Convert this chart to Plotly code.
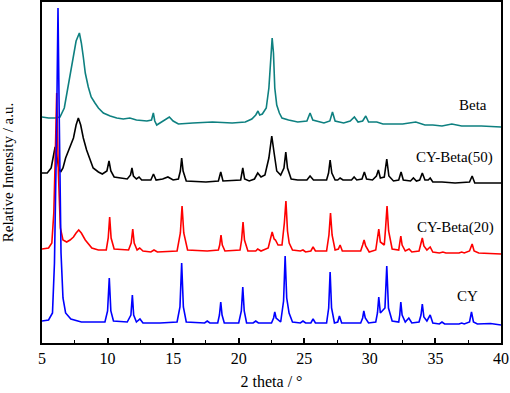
import plotly.graph_objects as go

# ---- data (2theta in degrees, intensity in plot units incl. stacking offset)
cy_2theta = [5.0, 5.5, 5.8, 5.95, 6.1, 6.22, 6.32, 6.45, 6.6, 6.8, 7.2, 8.0, 9.0, 9.8, 10.0, 10.13, 10.25, 10.45,
             11.5, 11.78, 11.89, 11.99, 12.2, 12.47, 12.7, 14.0, 15.3, 15.52, 15.65, 15.78, 16.0, 17.4, 17.6, 17.8,
             18.4, 18.53, 18.63, 18.73, 18.9, 20.0, 20.2, 20.31, 20.42, 20.6, 21.1, 21.3, 21.5, 22.5, 22.66, 22.75,
             22.85, 23.2, 23.42, 23.54, 23.66, 23.84, 24.1, 24.7, 24.9, 25.1, 25.5, 25.67, 25.85, 26.7, 26.86, 26.97,
             27.08, 27.3, 27.55, 27.68, 27.85, 29.3, 29.45, 29.54, 29.65, 29.9, 30.45, 30.58, 30.68, 30.8, 31.15,
             31.29, 31.42, 31.7, 32.2, 32.28, 32.36, 32.46, 32.7, 32.97, 33.2, 33.75, 33.9, 34.0, 34.12, 34.35, 34.6,
             34.8, 35.3, 35.5, 35.7, 36.8, 37.0, 37.2, 37.6, 37.75, 37.9, 38.2, 39.2, 40.0]
cy_intensity = [22, 23, 30, 80, 200, 335, 220, 90, 45, 30, 24, 21, 21, 21, 32, 65, 32, 22,
                21, 28, 48, 28, 21, 24, 20, 20, 21, 36, 80, 36, 21, 20, 22, 20,
                20, 28, 41, 28, 20, 20, 32, 56, 32, 20, 20, 22, 20, 20, 25, 31,
                25, 21, 42, 87, 45, 30, 21, 20, 22, 20, 20, 24, 20, 20, 35, 71,
                35, 20, 21, 27, 20, 20, 25, 32, 25, 20, 21, 30, 46, 30, 35,
                77, 35, 22, 21, 28, 41, 28, 21, 25, 20, 21, 28, 39, 26, 22, 28,
                20, 19, 21, 19, 19, 20, 19, 21, 31, 21, 19, 19.5, 18]

cyb20_2theta = [5.0, 5.5, 5.75, 5.9, 6.0, 6.12, 6.25, 6.4, 6.6, 6.88, 7.14, 7.4, 7.6, 7.8, 8.0, 8.3, 8.8, 9.3, 9.9,
                10.05, 10.16, 10.27, 10.5, 11.6, 11.8, 11.92, 12.03, 12.25, 12.45, 12.7, 13.3, 13.54, 13.8, 15.3,
                15.55, 15.68, 15.81, 16.1, 17.6, 18.45, 18.55, 18.65, 18.75, 18.95, 20.1, 20.22, 20.33, 20.44, 20.7,
                21.3, 21.45, 21.7, 22.25, 22.42, 22.55, 22.7, 22.8, 23.0, 23.3, 23.48, 23.6, 23.72, 23.85, 24.1, 24.7,
                24.9, 25.1, 25.5, 25.67, 25.85, 26.7, 26.88, 27.0, 27.12, 27.35, 27.6, 27.73, 27.9, 29.3, 29.45,
                29.56, 29.68, 29.95, 30.45, 30.58, 30.68, 30.8, 31.1, 31.2, 31.31, 31.43, 31.7, 32.2, 32.27, 32.36,
                32.46, 32.7, 32.99, 33.2, 33.75, 33.9, 34.0, 34.12, 34.35, 34.6, 34.8, 35.3, 35.57, 35.8, 36.8,
                37.0, 37.2, 37.6, 37.8, 37.95, 38.3, 40.0]
cyb20_intensity = [94, 95, 100, 130, 180, 250, 170, 115, 103, 101, 103, 106, 110, 113, 110, 103, 95, 93, 93,
                   105, 126, 105, 94, 93, 100, 114, 100, 93, 95, 92, 91, 93, 91, 92,
                   110, 137, 110, 93, 92, 93, 98, 108, 98, 92, 93, 103, 121, 103, 92,
                   92, 94, 92, 95, 103, 111, 104, 103, 98, 98, 120, 142, 112, 100, 93, 92,
                   93, 91, 92, 96, 92, 92, 108, 130, 108, 93, 94, 98, 92, 92, 98,
                   103, 97, 91, 93, 103, 114, 101, 98, 115, 137, 112, 94, 93, 99, 107,
                   98, 92, 94, 91, 92, 99, 105, 97, 93, 96, 91, 90, 91, 90, 90,
                   91, 90, 92, 99, 92, 90, 89]

cyb50_2theta = [5.0, 5.4, 5.7, 5.85, 6.0, 6.15, 6.3, 6.42, 6.6, 6.8, 7.14, 7.4, 7.6, 7.77, 7.95, 8.15, 8.4, 8.65,
                8.9, 9.3, 9.6, 9.95, 10.11, 10.25, 10.5, 11.5, 11.75, 11.86, 11.97, 12.2, 12.4, 12.6, 13.3, 13.5,
                13.7, 14.2, 14.6, 15.0, 15.4, 15.55, 15.65, 15.76, 16.0, 17.5, 18.45, 18.63, 18.8, 20.15, 20.31,
                20.45, 20.8, 21.2, 21.45, 21.7, 22.0, 22.3, 22.52, 22.7, 22.9, 23.2, 23.45, 23.59, 23.72, 24.0,
                24.5, 25.2, 25.44, 25.7, 26.7, 26.85, 26.97, 27.1, 27.35, 27.55, 27.73, 27.95, 28.6, 28.8, 29.0,
                29.4, 29.58, 29.75, 30.2, 30.5, 30.65, 30.8, 31.1, 31.29, 31.45, 31.8, 32.2, 32.38, 32.55, 33.1,
                33.32, 33.55, 33.8, 34.0, 34.2, 34.45, 34.6, 34.8, 35.5, 36.5, 37.6, 37.8, 38.0, 40.0]
cyb50_intensity = [170, 170, 175, 185, 196, 185, 174, 171, 175, 185, 196, 205, 218, 225, 218, 205, 193, 183,
                   175, 171, 169, 172, 182, 172, 166, 164, 168, 175, 167, 164, 166, 163, 163, 169,
                   163, 164, 166, 163, 164, 172, 185, 172, 162, 161, 162, 171, 162, 163, 175,
                   164, 162, 164, 170, 166, 168, 185, 207, 190, 172, 168, 175, 191, 175, 164,
                   163, 163, 167, 163, 163, 170, 183, 170, 163, 163, 165, 163, 163, 166, 163,
                   164, 171, 164, 163, 167, 173, 165, 166, 184, 167, 162, 163, 171, 163, 162,
                   165, 162, 163, 170, 163, 163, 165, 161, 161, 160, 161, 167, 160, 160]

beta_2theta = [5.0, 5.5, 6.0, 6.37, 6.7, 7.0, 7.2, 7.39, 7.6, 7.85, 8.0, 8.15, 8.3, 8.53, 8.75, 9.04, 9.3, 9.68,
               10.2, 10.7, 11.2, 11.7, 12.2, 13.0, 13.35, 13.49, 13.6, 13.75, 14.1, 14.4, 14.71, 15.0, 15.4, 16.5,
               18.0, 19.5, 20.5, 21.0, 21.3, 21.47, 21.6, 21.8, 22.1, 22.3, 22.45, 22.55, 22.65, 22.75, 22.9, 23.1,
               23.3, 23.8, 24.5, 25.2, 25.44, 25.65, 26.5, 26.95, 27.15, 27.35, 28.0, 28.5, 28.82, 29.1, 29.45,
               29.69, 29.9, 30.53, 31.0, 32.5, 33.5, 34.2, 34.8, 35.5, 36.25, 37.0, 38.5, 40.0]
beta_intensity = [226, 225, 225, 226, 235, 256, 272, 286, 302, 310, 300, 286, 270, 256, 246, 240, 235, 230,
                  227, 225, 224, 225, 223, 222, 223, 230, 222, 218, 221, 224, 226, 222, 219, 220,
                  221, 220, 221, 224, 228, 232, 228, 229, 235, 255, 290, 305, 290, 255, 238, 230,
                  225, 223, 221, 222, 230, 223, 220, 222, 231, 222, 220, 222, 226, 221, 222,
                  227, 221, 221, 219, 219, 221, 218, 218, 217, 219, 217, 217, 216]

series_names = ["Beta", "CY-Beta(50)", "CY-Beta(20)", "CY"]
series_colors = ["#0E8080", "#000000", "#FF0000", "#0000FF"]
x_ticks = [5, 10, 15, 20, 25, 30, 35, 40]

data = [(beta_2theta, beta_intensity), (cyb50_2theta, cyb50_intensity),
        (cyb20_2theta, cyb20_intensity), (cy_2theta, cy_intensity)]

font_family = "Liberation Serif"

fig = go.Figure()
for (xs, ys), name, color in zip(data, series_names, series_colors):
    fig.add_trace(go.Scatter(x=xs, y=ys, mode="lines", name=name,
                             line=dict(color=color, width=1.6)))

# series labels
label_pos = [(39.1, 238), (39.55, 186), (39.6, 116), (38.4, 47)]
for name, (lx, ly) in zip(series_names, label_pos):
    fig.add_annotation(x=lx, y=ly, xref="x", yref="y", text=name, showarrow=False,
                       xanchor="right", yanchor="middle",
                       font=dict(family=font_family, size=15, color="black"))

fig.update_layout(
    width=510, height=393,
    margin=dict(l=42, r=9, t=2, b=50, autoexpand=False),
    paper_bgcolor="white", plot_bgcolor="white",
    showlegend=False,
    font=dict(family=font_family, size=16, color="black"),
)
fig.update_xaxes(
    range=[5, 40], tickvals=x_ticks, ticktext=[str(v) for v in x_ticks],
    ticks="inside", ticklen=5, tickwidth=1.5, tickcolor="black",
    minor=dict(ticks="inside", ticklen=3, tickwidth=1.2, dtick=2.5, tick0=5, tickcolor="black"),
    showline=True, linecolor="black", linewidth=2, mirror=True,
    showgrid=False, zeroline=False, automargin=False,
    tickfont=dict(family=font_family, size=16, color="black"),
    title=dict(text="2 theta / °", font=dict(family=font_family, size=16, color="black"), standoff=10),
)
fig.update_yaxes(
    range=[0, 341], showticklabels=False, ticks="",
    showline=True, linecolor="black", linewidth=2, mirror=True,
    showgrid=False, zeroline=False, automargin=False,
    title=dict(text="Relative Intensity / a.u.", font=dict(family=font_family, size=15, color="black"),
               standoff=24),
)

fig.write_html("out.html", config={"displayModeBar": False},
               post_script="document.body.style.margin='0';document.body.style.padding='0';")
